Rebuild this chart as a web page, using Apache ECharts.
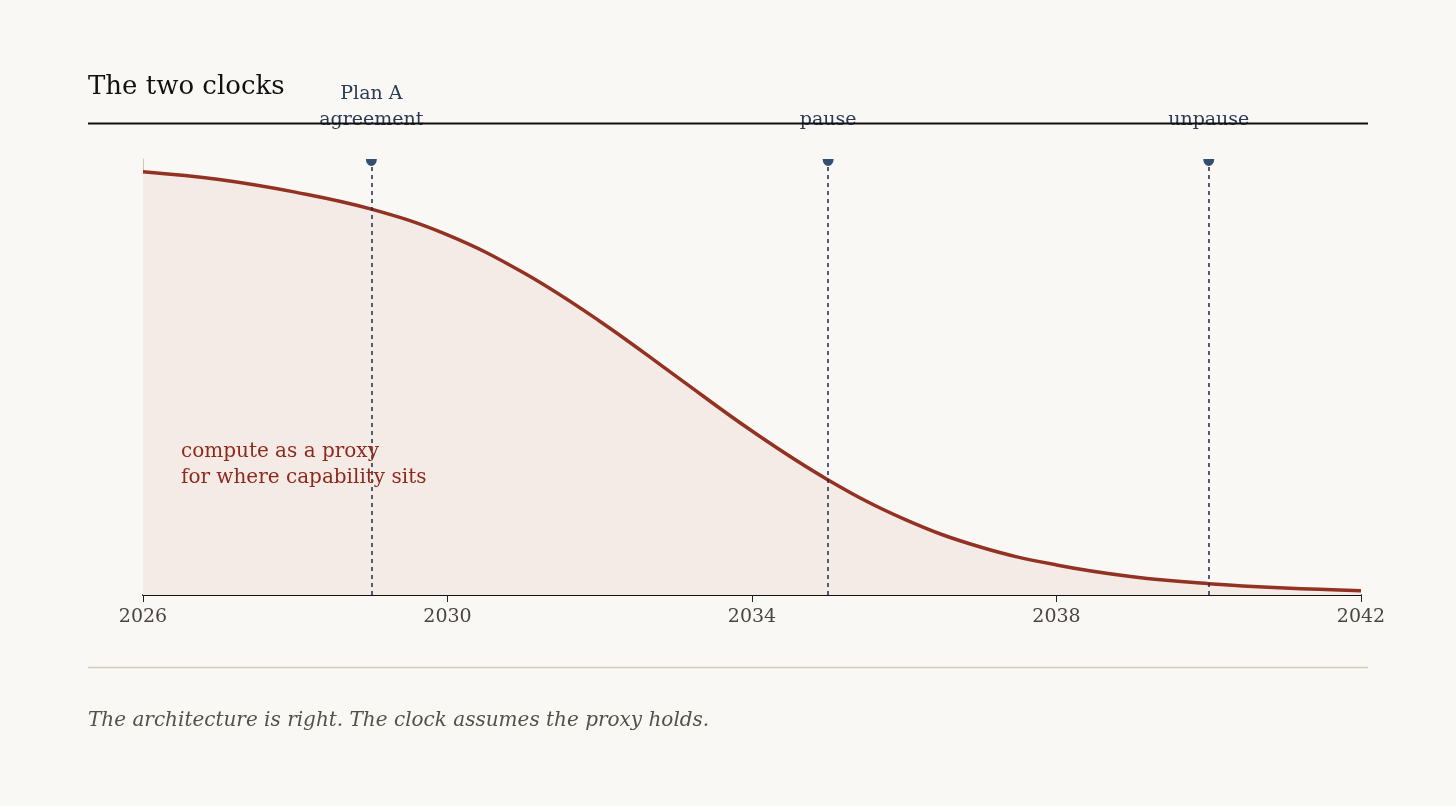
<!DOCTYPE html>
<html>
<head>
<meta charset="utf-8">
<script src="https://cdn.jsdelivr.net/npm/echarts@6/dist/echarts.min.js"></script>
<style>
  html, body { margin: 0; padding: 0; background: #faf8f4; }
  #chart-container { width: 1456px; height: 806px; }
</style>
</head>
<body>
<div id="chart-container"></div>
<script>
// values, share of compute (0..1) per year
const years = [2026, 2027, 2028, 2029, 2030, 2031, 2032, 2033, 2034, 2035, 2036, 2037, 2038, 2039, 2040, 2041, 2042]
const proxy = [0.971, 0.953, 0.924, 0.885, 0.826, 0.739, 0.628, 0.502, 0.376, 0.264, 0.174, 0.110, 0.069, 0.042, 0.026, 0.016, 0.010]

const eventYears = [2029, 2035, 2040]
const eventLabels = ['Plan A\nagreement', 'pause', 'unpause']

const serif = 'DejaVu Serif'
const ink = '#1e2b45'

const dom = document.getElementById('chart-container')
const myChart = echarts.init(dom, null, { renderer: 'canvas' })

const options = {
  backgroundColor: '#faf8f4',
  animation: false,
  grid: { left: 143, right: 95, top: 159, bottom: 211 },
  xAxis: {
    type: 'value',
    min: 2026,
    max: 2042,
    interval: 4,
    splitLine: { show: false },
    axisLine: { lineStyle: { color: '#111', width: 1.8 } },
    axisTick: { show: true, length: 7, lineStyle: { color: '#222' } },
    axisLabel: {
      formatter: v => String(v),
      fontFamily: serif,
      fontSize: 19,
      color: '#4a4540',
      margin: 13
    }
  },
  yAxis: {
    type: 'value',
    min: 0,
    max: 1,
    splitLine: { show: false },
    axisLine: { show: true, lineStyle: { color: '#cfc6bc', width: 1 } },
    axisTick: { show: false },
    axisLabel: { show: false }
  },
  series: [
    {
      name: 'proxy',
      type: 'line',
      smooth: 0.4,
      symbol: 'none',
      data: years.map((y, i) => [y, proxy[i]]),
      lineStyle: { color: '#933222', width: 3.5 },
      areaStyle: { color: '#f4ebe6', opacity: 1 },
      z: 2,
      markLine: {
        silent: true,
        symbol: ['none', 'none'],
        label: { show: false },
        lineStyle: { color: ink, type: [4, 4], width: 1.5, opacity: 1 },
        data: eventYears.map(y => ({ xAxis: y }))
      }
    },
    {
      name: 'events',
      type: 'scatter',
      data: eventYears.map((y, i) => ({ value: [y, 1], name: eventLabels[i] })),
      symbol: 'path://M0,0 L12,0 A6,5 0 0 1 0,0 Z',
      symbolSize: [11, 7],
      symbolOffset: [0, 3.5],
      itemStyle: { color: '#34506e', opacity: 1 },
      z: 5,
      label: {
        show: true,
        position: 'top',
        distance: 26,
        formatter: p => p.name,
        fontFamily: serif,
        fontSize: 19,
        lineHeight: 26,
        color: '#2a3a55',
        align: 'center'
      }
    }
  ],
  graphic: [
    {
      type: 'text',
      left: 88,
      top: 74,
      style: { text: 'The two clocks', font: '26px "DejaVu Serif"', fill: '#111' }
    },
    {
      type: 'line',
      shape: { x1: 88, y1: 123.5, x2: 1368, y2: 123.5 },
      style: { stroke: '#111', lineWidth: 2 },
      z: 100
    },
    {
      type: 'text',
      left: 181,
      top: 439,
      z: 50,
      style: {
        text: 'compute as a proxy\nfor where capability sits',
        font: '20px "DejaVu Serif"',
        lineHeight: 26,
        fill: '#8e2a1c'
      }
    },
    {
      type: 'line',
      shape: { x1: 88, y1: 667.5, x2: 1368, y2: 667.5 },
      style: { stroke: '#d2cdbf', lineWidth: 1.5 }
    },
    {
      type: 'text',
      left: 88,
      top: 711,
      style: {
        text: 'The architecture is right. The clock assumes the proxy holds.',
        font: 'italic 20px "DejaVu Serif"',
        fill: '#555049'
      }
    }
  ]
}

if (options && typeof options === 'object') {
  myChart.setOption(options)
}

window.addEventListener('resize', myChart.resize)
</script>
</body>
</html>
